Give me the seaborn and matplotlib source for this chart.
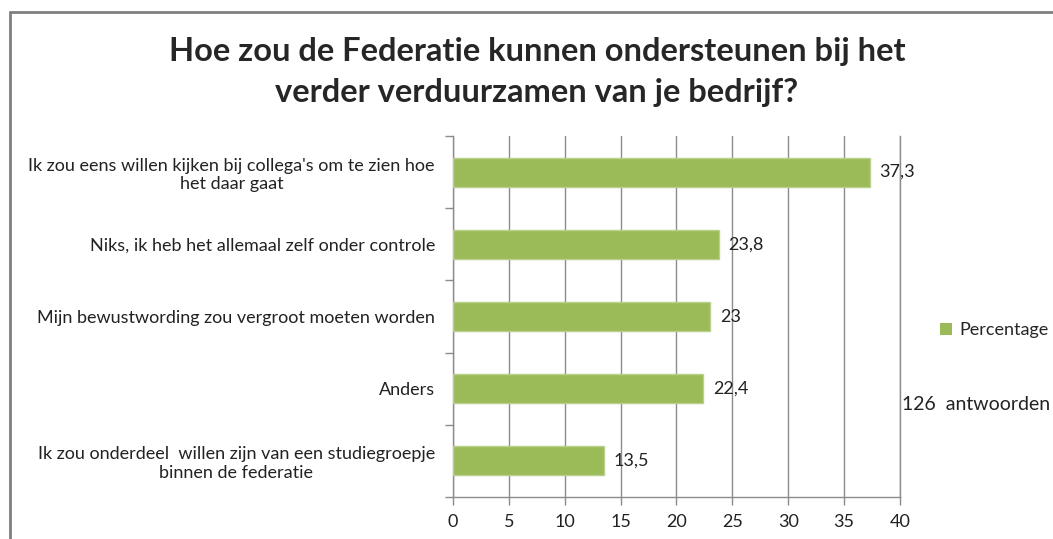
import numpy as np
import pandas as pd
import seaborn as sns
import matplotlib.pyplot as plt
from matplotlib.lines import Line2D
from matplotlib.patches import Patch

# Data
categories = [
    "Ik zou eens willen kijken bij collega's om te zien hoe\nhet daar gaat",
    "Niks, ik heb het allemaal zelf onder controle",
    "Mijn bewustwording zou vergroot moeten worden",
    "Anders",
    "Ik zou onderdeel  willen zijn van een studiegroepje\nbinnen de federatie",
]
values = [37.3, 23.8, 23.0, 22.4, 13.5]
value_labels = ["37,3", "23,8", "23", "22,4", "13,5"]
x_ticks = [0, 5, 10, 15, 20, 25, 30, 35, 40]

title = "Hoe zou de Federatie kunnen ondersteunen bij het\nverder verduurzamen van je bedrijf?"
series_name = "Percentage"
note = "126  antwoorden"

df = pd.DataFrame({"cat": categories, "val": values})

sns.set_style("white")
plt.rcParams['font.family'] = ['Lato', 'DejaVu Sans']

fig = plt.figure(figsize=(10.53, 5.39), dpi=100)
ax = fig.add_axes([0.4302, 0.0779, 0.4245, 0.6698])

bar_color = "#9BBB59"
sns.barplot(data=df, x="val", y="cat", orient="h", color=bar_color, saturation=1,
            width=0.4, edgecolor="#B9D08D", linewidth=1, ax=ax, zorder=3)

ax.set_xlim(0, 40)
ax.set_ylim(len(categories) - 0.5, -0.5)
ax.set_xticks(x_ticks)
ax.set_xticklabels([str(t) for t in x_ticks], fontsize=13, color="#222222")
ax.set_xlabel("")
ax.set_ylabel("")
ax.grid(axis="x", color="#8c8c8c", linewidth=1, zorder=0)
ax.set_axisbelow(True)

# y ticks at category boundaries
ax.set_yticks(np.arange(len(categories)))
ax.set_yticklabels(categories, fontsize=13, color="#222222", multialignment="center")
ax.tick_params(axis="y", which="major", left=False, length=0, pad=13)
ax.set_yticks(np.arange(len(categories) + 1) - 0.5, minor=True)
ax.tick_params(axis="y", which="minor", left=True, length=6, color="#8c8c8c", width=1)
ax.tick_params(axis="x", bottom=True, length=6, color="#8c8c8c", width=1, pad=6)

ax.spines["top"].set_visible(False)
for side in ["left", "bottom", "right"]:
    ax.spines[side].set_color("#8c8c8c")
    ax.spines[side].set_linewidth(1)

ax.bar_label(ax.containers[0], labels=value_labels, padding=7, fontsize=13, color="#222222")

fig.text(0.51, 0.866, title, ha="center", va="center", fontsize=23.5,
         fontweight="bold", linespacing=1.5)

handle = Patch(facecolor=bar_color, edgecolor="none")
fig.legend([handle], [series_name], loc="center left", bbox_to_anchor=(0.893, 0.387),
           frameon=False, fontsize=13, handlelength=0.65, handleheight=0.65,
           handletextpad=0.4, borderpad=0, borderaxespad=0)
fig.text(0.857, 0.249, note, fontsize=14, color="#222222", va="center")

# outer chart border (top and left edges visible)
bx, by = 9.5 / 1053, 1 - 11.5 / 539
fig.add_artist(Line2D([bx, 1.0], [by, by], transform=fig.transFigure,
                      color="#7f7f7f", linewidth=2, zorder=10))
fig.add_artist(Line2D([bx, bx], [0.0, by], transform=fig.transFigure,
                      color="#7f7f7f", linewidth=2, zorder=10))

fig.savefig("out.png", dpi=100)
